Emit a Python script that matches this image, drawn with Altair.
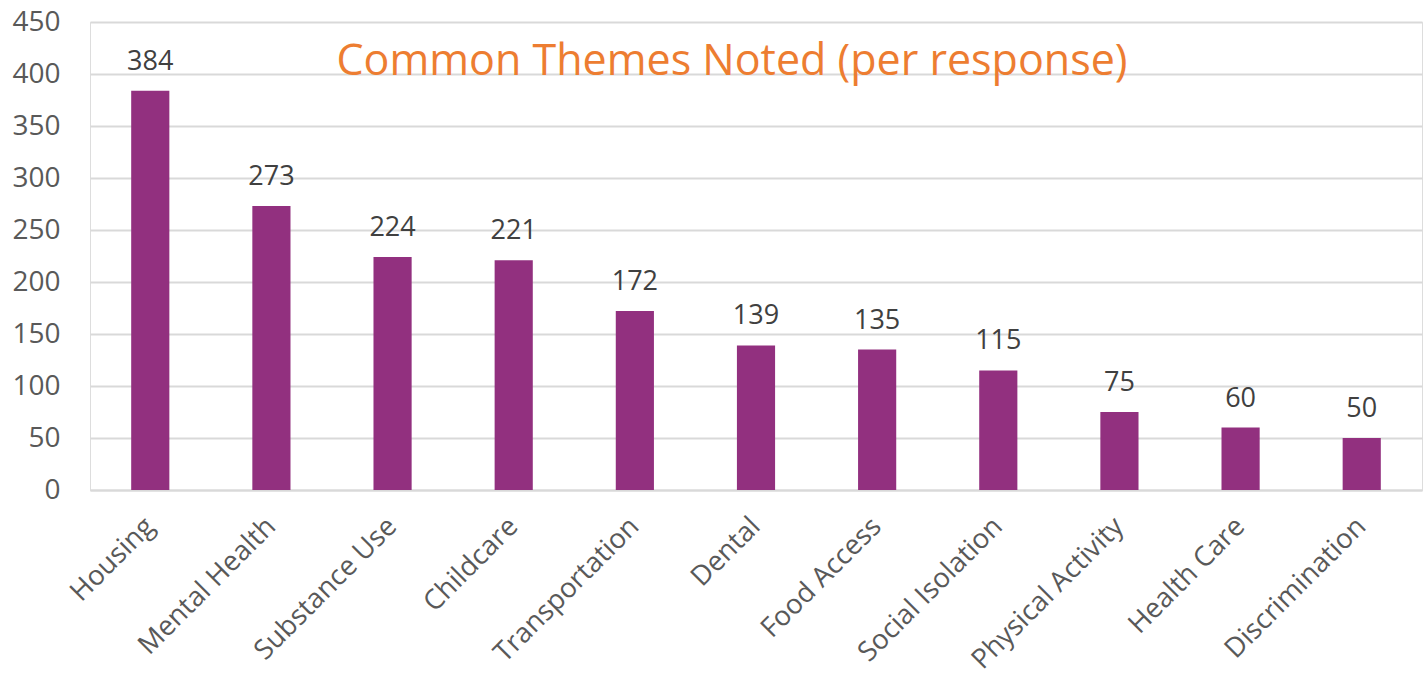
import altair as alt
import pandas as pd

categories = ["Housing", "Mental Health", "Substance Use", "Childcare", "Transportation",
              "Dental", "Food Access", "Social Isolation", "Physical Activity",
              "Health Care", "Discrimination"]
counts = [384, 273, 224, 221, 172, 139, 135, 115, 75, 60, 50]
y_ticks = [0, 50, 100, 150, 200, 250, 300, 350, 400, 450]
title_text = "Common Themes Noted (per response)"

df = pd.DataFrame({"theme": categories, "count": counts})

FONT = "Open Sans"

x = alt.X("theme:N", sort=categories, title=None,
          scale=alt.Scale(paddingInner=0.685, paddingOuter=0.34),
          axis=alt.Axis(labelAngle=-45, labelFontSize=27.5, labelColor="#595959",
                        labelFont=FONT, labelAlign="right", labelBaseline="middle",
                        labelPadding=32, ticks=False, domainColor="#D9D9D9",
                        domainWidth=2, labelLimit=400))
y = alt.Y("count:Q", title=None,
          scale=alt.Scale(domain=[0, 450], nice=False),
          axis=alt.Axis(values=y_ticks, labelFontSize=28, labelColor="#595959",
                        labelFont=FONT, labelPadding=30, ticks=False, domain=False,
                        gridColor="#D9D9D9", gridWidth=2))

bars = alt.Chart(df).mark_bar(color="#92307F").encode(x=x, y=y)
labels = alt.Chart(df).mark_text(dy=-21, fontSize=27, color="#404040", font=FONT,
                                 baseline="alphabetic").encode(
    x=alt.X("theme:N", sort=categories), y="count:Q", text="count:Q")

title = alt.Chart(pd.DataFrame({"t": [title_text]})).mark_text(
    fontSize=43, color="#ED7D31", font=FONT, align="center", baseline="middle").encode(
    text="t:N", x=alt.value(642), y=alt.value(40))

chart = alt.layer(bars, labels, title).properties(
    width=1332, height=468,
    autosize=alt.AutoSizeParams(type="none"),
    padding={"left": 90, "top": 22, "right": 5, "bottom": 190},
).configure_view(stroke=None).configure(background="white")

chart.save("out.html", embed_options={"renderer": "svg", "actions": False})
